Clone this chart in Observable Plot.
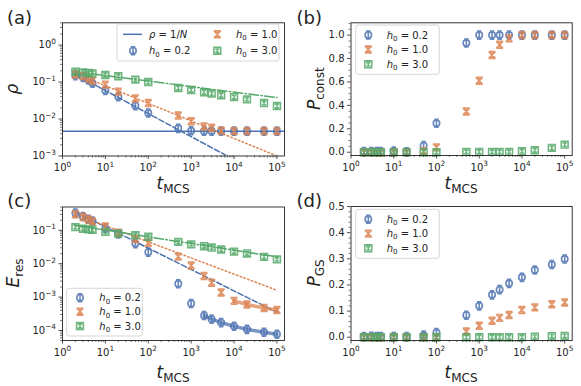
<!DOCTYPE html>
<html><head><meta charset="utf-8">
<script src="https://cdn.jsdelivr.net/npm/d3@7"></script>
<script src="https://cdn.jsdelivr.net/npm/@observablehq/plot@0.6"></script>
<style>
body{margin:0;background:#fff}
#fig{position:relative;width:581px;height:386px;font-family:"DejaVu Sans",sans-serif;background:#fff}
#fig svg{position:absolute}
</style>
</head><body><div id="fig"></div>
<script>
// ---------- data ----------
const tMCS = [2,3,4,5,10,20,50,100,500,1000,2000,3000,5000,10000,20000,50000,100000];
const h0Labels = ["0.2","1.0","3.0"];

// (a) rho
const rho02 = [0.149,0.134,0.114,0.093,0.059,0.040,0.023,0.0145,0.0056,0.0048,0.0047,0.0047,0.0047,0.0047,0.0047,0.0047,0.0047];
const rho10 = [0.16,0.145,0.125,0.11,0.085,0.055,0.036,0.027,0.0124,0.0087,0.0063,0.0058,0.0048,0.0047,0.0047,0.0047,0.0047];
const rho30 = [0.19,0.183,0.176,0.172,0.155,0.143,0.116,0.10,0.069,0.061,0.053,0.049,0.044,0.039,0.034,0.027,0.0225];
const rhoInvN = [0.0047];
const fitT = [2, 100000];
const rhoFit02 = [0.16, 0.00019];
const rhoFit10 = [0.17, 0.001];
const rhoFit30 = [0.19, 0.038];

// (b) P_const
const pc02 = [0.005,0.005,0.005,0.005,0.01,0.003,0.056,0.247,0.932,1.0,1.0,1.0,1.0,1.0,1.0,1.0,1.0];
const pc10 = [0,0,0,0,0,0,0.008,0.041,0.348,0.61,0.83,0.917,0.972,1.0,1.0,1.0,1.0];
const pc30 = [0,0,0,0,0,0,0,0,0.003,0.003,0.003,0.003,0.003,0.008,0.017,0.037,0.065];

// (c) E_res
const er02 = [0.33,0.26,0.215,0.19,0.115,0.078,0.040,0.022,0.0025,0.00064,0.00028,0.000218,0.000172,0.000134,0.000108,0.000088,0.000077];
const er10 = [0.30,0.25,0.21,0.185,0.13,0.085,0.055,0.042,0.0163,0.0088,0.0043,0.0027,0.00137,0.00077,0.0006,0.00047,0.00041];
const er30 = [0.125,0.112,0.107,0.104,0.09,0.08,0.071,0.064,0.045,0.038,0.0335,0.0305,0.0266,0.023,0.0203,0.016,0.0135];
const erFit02 = [0.36, 0.00035];
const erFit10 = [0.30, 0.0016];
const erFit30 = [0.14, 0.016];
const erTail02From = 2000;
const erTail10From = 10000;

// (d) P_GS
const pg02 = [0.003,0.004,0.003,0.003,0.003,0.003,0.008,0.018,0.084,0.12,0.162,0.182,0.206,0.229,0.257,0.278,0.299];
const pg10 = [0,0,0,0,0,0,0,0,0.022,0.044,0.063,0.074,0.085,0.104,0.114,0.126,0.133];
const pg30 = [0,0,0,0,0,0,0,0,0,0,0,0,0,0,0.002,0.004,0.005];

// ticks
const xMajor = [1,10,100,1000,10000,100000];
const rhoMajor = [0.001,0.01,0.1,1];
const erMajor = [0.0001,0.001,0.01,0.1];
const pcMajor = [0,0.2,0.4,0.6,0.8,1.0];
const pgMajor = [0,0.1,0.2,0.3,0.4,0.5];

// ---------- style ----------
const BLUE = "#4c72b0", ORANGE = "#dd8452", GREEN = "#55a868";
const INK = "#222";

function errSym(kind) {
  return {draw(ctx, size) {
    const r = Math.sqrt(size / Math.PI);
    let h, c;
    if (kind === "circle") { ctx.moveTo(r, 0); ctx.arc(0, 0, r, 0, 2 * Math.PI); ctx.closePath(); h = r * 1.25; c = r * 0.7; }
    else if (kind === "square") { ctx.rect(-r, -r, 2 * r, 2 * r); h = r * 0.5; c = r * 0.6; }
    else { ctx.moveTo(-r, -r); ctx.lineTo(r, r); ctx.moveTo(-r, r); ctx.lineTo(r, -r); h = r; c = r; }
    ctx.moveTo(0, -h); ctx.lineTo(0, h);
    ctx.moveTo(-c, -h); ctx.lineTo(c, -h);
    ctx.moveTo(-c, h); ctx.lineTo(c, h);
  }};
}
const SYMS = [errSym("circle"), errSym("x"), errSym("square")];
const RS = [3.2, 3.4, 3.4];
const COLS = [BLUE, ORANGE, GREEN];

const rows = ys => tMCS.map((t, i) => ({t, v: ys[i]}));
const lineRows = ys => fitT.map((t, i) => ({t, v: ys[i]}));
const powFmt = d => "10^" + Math.round(Math.log10(d));

function logMinor(lo, hi) {
  const out = [];
  for (let k = Math.floor(Math.log10(lo)); k <= Math.ceil(Math.log10(hi)); k++)
    for (let m = 2; m <= 9; m++) { const v = m * Math.pow(10, k); if (v >= lo * 0.999 && v <= hi * 1.001) out.push(v); }
  return out;
}
function linMinor(step, n, every) {
  const out = [];
  for (let i = 0; i <= n; i++) if (i % every !== 0) out.push(+(i * step).toFixed(3));
  return out;
}
const xDomain = [1, 150000];
const xMinor = logMinor(1, 150000);

const dots = series => series.map((ys, i) =>
  Plot.dot(rows(ys), {x: "t", y: "v", r: RS[i], symbol: SYMS[i], stroke: COLS[i], fill: "none", strokeWidth: 1.6, strokeOpacity: 0.85}));

// turn "10^k" tick labels into 10 with a raised exponent
function superscripts(svg) {
  svg.querySelectorAll("text").forEach(t => {
    const m = /^10\^(-?\d+)$/.exec(t.textContent);
    if (!m) return;
    t.textContent = "";
    const ns = "http://www.w3.org/2000/svg";
    const a = document.createElementNS(ns, "tspan"); a.textContent = "10"; t.append(a);
    const b = document.createElementNS(ns, "tspan");
    b.setAttribute("dy", "-4.2"); b.setAttribute("font-size", "7.3");
    b.textContent = m[1].replace("-", "\u2212"); t.append(b);
  });
}

const fig = document.getElementById("fig");
function panel(o) {
  const svg = Plot.plot({
    width: o.width, height: 193,
    marginLeft: o.mL, marginRight: o.mR, marginTop: o.mT, marginBottom: o.mB,
    x: {type: "log", domain: xDomain},
    y: {type: o.yType, domain: o.yDomain},
    style: {fontFamily: "DejaVu Sans, sans-serif", fontSize: "10px", color: INK, background: "none", overflow: "visible"},
    marks: [
      ...o.marks,
      Plot.frame({stroke: INK, strokeWidth: 0.9}),
      Plot.axisX(xMajor, {tickSize: 3.5, tickPadding: 4.5, tickFormat: powFmt, fontSize: 10, label: null, strokeWidth: 0.8}),
      Plot.axisX(xMinor, {tickSize: 2, tickFormat: () => "", label: null, strokeWidth: 0.6}),
      Plot.axisY(o.yMajor, {tickSize: 3.5, tickPadding: 3, tickFormat: o.yFmt, fontSize: 10, label: null, strokeWidth: 0.8}),
      Plot.axisY(o.yMinor, {tickSize: 2, tickFormat: () => "", label: null, strokeWidth: 0.6})
    ]
  });
  superscripts(svg);
  svg.style.left = o.left + "px";
  svg.style.top = o.top + "px";
  fig.append(svg);
}

// (a)
panel({left: 0, top: 0, width: 290, mL: 62, mR: 6, mT: 22.3, mB: 37.5,
  yType: "log", yDomain: [0.001, 4], yMajor: rhoMajor, yMinor: logMinor(0.001, 4), yFmt: powFmt,
  marks: [
    Plot.ruleY(rhoInvN, {stroke: BLUE, strokeWidth: 1.5}),
    Plot.line(lineRows(rhoFit02), {x: "t", y: "v", stroke: BLUE, strokeWidth: 1.5, strokeDasharray: "5.5,2.4", clip: true}),
    Plot.line(lineRows(rhoFit10), {x: "t", y: "v", stroke: ORANGE, strokeWidth: 1.5, strokeDasharray: "1.5,2.5", clip: true}),
    Plot.line(lineRows(rhoFit30), {x: "t", y: "v", stroke: GREEN, strokeWidth: 1.5, strokeDasharray: "9.6,2.4,1.5,2.4", clip: true}),
    ...dots([rho02, rho10, rho30])
  ]});
// (b)
panel({left: 290, top: 0, width: 291, mL: 60.5, mR: 9.3, mT: 22.3, mB: 38,
  yType: "linear", yDomain: [-0.028, 1.105], yMajor: pcMajor, yMinor: linMinor(0.05, 22, 4), yFmt: d => d.toFixed(1),
  marks: dots([pc02, pc10, pc30])});
// (c)
panel({left: 0, top: 193, width: 290, mL: 62, mR: 6, mT: 13.5, mB: 46,
  yType: "log", yDomain: [0.00005, 0.5], yMajor: erMajor, yMinor: logMinor(0.00005, 0.5), yFmt: powFmt,
  marks: [
    Plot.line(lineRows(erFit02), {x: "t", y: "v", stroke: BLUE, strokeWidth: 1.5, strokeDasharray: "5.5,2.4", clip: true}),
    Plot.line(lineRows(erFit10), {x: "t", y: "v", stroke: ORANGE, strokeWidth: 1.5, strokeDasharray: "1.5,2.5", clip: true}),
    Plot.line(lineRows(erFit30), {x: "t", y: "v", stroke: GREEN, strokeWidth: 1.5, strokeDasharray: "9.6,2.4,1.5,2.4", clip: true}),
    Plot.line(rows(er02).filter(d => d.t >= erTail02From), {x: "t", y: "v", stroke: BLUE, strokeWidth: 3.5, strokeOpacity: 0.75}),
    Plot.line(rows(er10).filter(d => d.t >= erTail10From), {x: "t", y: "v", stroke: ORANGE, strokeWidth: 3.5, strokeOpacity: 0.75}),
    ...dots([er02, er10, er30])
  ]});
// (d)
panel({left: 290, top: 193, width: 291, mL: 60.5, mR: 9.3, mT: 13, mB: 46,
  yType: "linear", yDomain: [-0.0125, 0.5], yMajor: pgMajor, yMinor: linMinor(0.02, 25, 5), yFmt: d => d.toFixed(1),
  marks: dots([pg02, pg10, pg30])});

// ---------- overlay: labels, legends ----------
const ov = d3.select(fig).append("svg").attr("width", 581).attr("height", 386)
  .style("left", "0px").style("top", "0px").style("pointer-events", "none")
  .attr("font-family", "DejaVu Sans, sans-serif").attr("fill", INK);

function xLabel(cx, by) {
  const t = ov.append("text").attr("x", cx).attr("y", by).attr("text-anchor", "middle").attr("font-size", 17);
  t.append("tspan").attr("font-style", "italic").text("t");
  t.append("tspan").attr("font-size", 12).attr("dy", 4).text("MCS");
}
function yLabel(bx, cy, main, sub, italic) {
  const t = ov.append("text").attr("transform", `translate(${bx},${cy}) rotate(-90)`).attr("text-anchor", "middle").attr("font-size", 17);
  t.append("tspan").attr("font-style", italic ? "italic" : null).text(main);
  if (sub) t.append("tspan").attr("font-size", 12).attr("dy", 4).text(sub);
}
xLabel(173, 188.5); xLabel(461, 188.5); xLabel(173, 377.5); xLabel(461, 377.5);
yLabel(18, 89, "ρ", null, true);
yLabel(320, 88.7, "P", "const", true);
yLabel(19, 273, "E", "res", true);
yLabel(319.5, 273, "P", "GS", true);

[["(a)", 7, 23.5], ["(b)", 296.5, 23.5], ["(c)", 7.3, 207.4], ["(d)", 296.5, 206.5]].forEach(([s, x, y]) =>
  ov.append("text").attr("x", x).attr("y", y).attr("font-size", 18).text(s));

function legendBox(x0, y0, x1, y1) {
  ov.append("rect").attr("x", x0).attr("y", y0).attr("width", x1 - x0).attr("height", y1 - y0)
    .attr("rx", 2.5).attr("fill", "white").attr("fill-opacity", 0.8).attr("stroke", "#cccccc").attr("stroke-width", 0.8);
}
function legendMarker(i, cx, cy) {
  ov.append("path").attr("d", d3.symbol(SYMS[i], RS[i] * RS[i] * Math.PI)()).attr("transform", `translate(${cx},${cy})`)
    .attr("fill", "none").attr("stroke", COLS[i]).attr("stroke-width", 1.6).attr("stroke-opacity", 0.85);
}
function h0Text(i, x, cy) {
  const t = ov.append("text").attr("x", x).attr("y", cy + 3.6).attr("font-size", 10).style("white-space", "pre");
  t.append("tspan").attr("font-style", "italic").text("h");
  t.append("tspan").attr("font-size", 7).attr("dy", 2.2).text("0");
  t.append("tspan").attr("dy", -2.2).text(" = " + h0Labels[i]);
}
// legend (a)
legendBox(117, 24, 279, 61);
ov.append("line").attr("x1", 123).attr("x2", 142).attr("y1", 34.3).attr("y2", 34.3).attr("stroke", BLUE).attr("stroke-width", 1.5);
{
  const t = ov.append("text").attr("x", 149).attr("y", 37.9).attr("font-size", 10).style("white-space", "pre");
  t.append("tspan").attr("font-style", "italic").text("ρ");
  t.append("tspan").text(" = 1/");
  t.append("tspan").attr("font-style", "italic").text("N");
}
legendMarker(0, 133, 50.7); h0Text(0, 149, 50.7);
legendMarker(1, 217.3, 34.3); h0Text(1, 236, 34.3);
legendMarker(2, 217.3, 50.7); h0Text(2, 236, 50.7);
// legends (b),(c),(d)
function legend3(x0, y0, x1, y1, mx, tx, ys) {
  legendBox(x0, y0, x1, y1);
  ys.forEach((y, i) => { legendMarker(i, mx, y); h0Text(i, tx, y); });
}
legend3(355.7, 25, 439.3, 74.3, 368.3, 386.7, [35, 49.5, 64.3]);
legend3(66.7, 288.3, 142.3, 336, 80, 99.3, [297.7, 311.7, 326]);
legend3(355.7, 209.3, 439.3, 258.3, 368.3, 386.7, [219.3, 233.6, 248.3]);
</script>
</body></html>
